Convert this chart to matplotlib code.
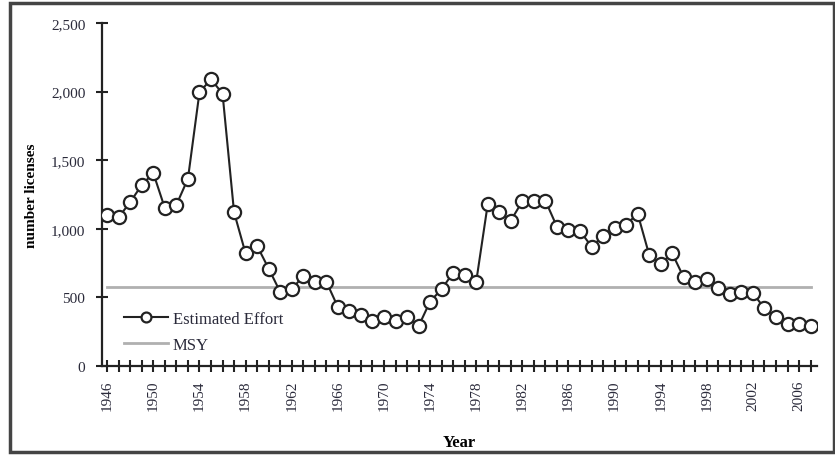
import numpy as np
import matplotlib.pyplot as plt
from matplotlib.patches import Rectangle

# Jahre und geschätzter Aufwand (Anzahl Lizenzen)
years = np.arange(1946, 2008)
effort = [1100, 1085, 1195, 1320, 1405, 1150, 1175, 1365, 1995, 2090,
          1985, 1120, 820, 875, 710, 540, 560, 655, 610, 615,
          430, 400, 375, 330, 360, 330, 360, 290, 470, 560,
          680, 665, 615, 1180, 1125, 1060, 1200, 1205, 1205, 1015,
          990, 985, 870, 945, 1005, 1030, 1110, 810, 745, 820,
          645, 615, 635, 570, 525, 540, 530, 420, 360, 305,
          305, 290]
msy = 575  # maximaler nachhaltiger Ertrag

y_ticks = [0, 500, 1000, 1500, 2000, 2500]
y_tick_labels = ["0", "500", "1,000", "1,500", "2,000", "2,500"]
label_years = np.arange(1946, 2008, 4)

plt.rcParams['font.family'] = ['Liberation Serif', 'DejaVu Serif']

fig = plt.figure(figsize=(8.35, 4.56), dpi=100)
ax = fig.add_axes([0.1222, 0.1952, 0.8562, 0.7522])

ax.plot(years, effort, color="#222222", linewidth=1.5, marker="o",
        markersize=9.5, markerfacecolor="white", markeredgecolor="#222222",
        markeredgewidth=1.6, label="Estimated Effort", zorder=3)
ax.plot(years, [msy] * len(years), color="#b0b0b0", linewidth=2,
        label="MSY", zorder=2)

ax.set_xlim(1945.55, 2007.55)
ax.set_ylim(0, 2500)

# Achsen: nur links und unten
for side in ["top", "right"]:
    ax.spines[side].set_visible(False)
for side in ["left", "bottom"]:
    ax.spines[side].set_linewidth(1.6)
    ax.spines[side].set_color("#222222")

ax.set_yticks(y_ticks)
ax.set_yticklabels(y_tick_labels)
ax.set_xticks(years)
ax.set_xticklabels([str(y) if y in label_years else "" for y in years],
                   rotation=90)

ax.tick_params(axis="both", direction="inout", length=8, width=1.5,
               color="#222222", labelsize=11, labelcolor="#2a2a3a")
ax.tick_params(axis="y", pad=8)
ax.tick_params(axis="x", pad=6)

ax.set_xlabel("Year", fontsize=12, fontweight="bold", labelpad=17)
ax.set_ylabel("number licenses", fontsize=11, fontweight="bold", labelpad=9)

leg = ax.legend(loc="lower left", bbox_to_anchor=(0.01, -0.005), frameon=False,
                fontsize=12, handlelength=2.6, markerscale=0.75,
                labelspacing=0.6, handletextpad=0.3)
for t in leg.get_texts():
    t.set_color("#2a2a3a")

# Rahmen um die ganze Grafik
fig.patches.append(Rectangle((10 / 835, 3 / 456), 824 / 835, 449 / 456,
                             transform=fig.transFigure, fill=False,
                             edgecolor="#444444", linewidth=2.5))

plt.savefig("out.png", dpi=100)
